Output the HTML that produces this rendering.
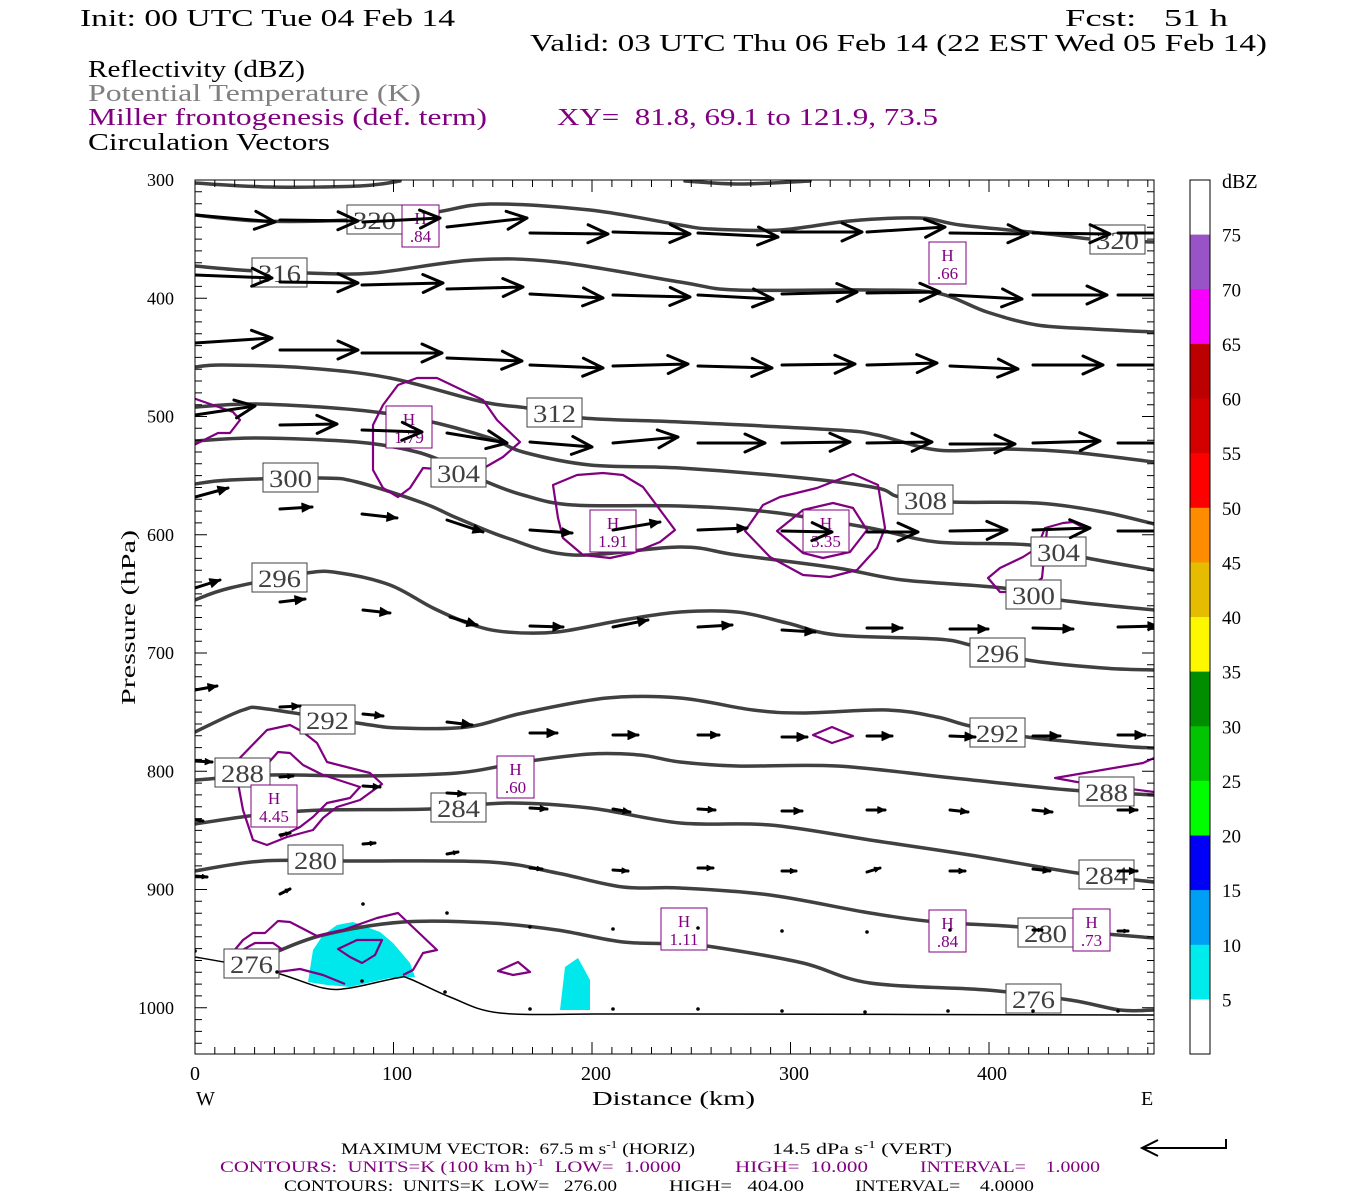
<!DOCTYPE html>
<html><head><meta charset="utf-8"><style>
html,body{margin:0;padding:0;background:#fff;}
svg{display:block;}
text{font-family:"Liberation Serif",serif;white-space:pre;}
</style></head><body>
<svg id="s" width="1350" height="1200" viewBox="0 0 1350 1200" xmlns="http://www.w3.org/2000/svg" xml:space="preserve">
<rect width="1350" height="1200" fill="#fff"/>
<g font-size="24" fill="#000">
<text x="80" y="26" textLength="375" lengthAdjust="spacingAndGlyphs">Init: 00 UTC Tue 04 Feb 14</text>
<text x="1065" y="26" textLength="163" lengthAdjust="spacingAndGlyphs">Fcst:   51 h</text>
<text x="530" y="51" textLength="737" lengthAdjust="spacingAndGlyphs">Valid: 03 UTC Thu 06 Feb 14 (22 EST Wed 05 Feb 14)</text>
<text x="88" y="77" textLength="217" lengthAdjust="spacingAndGlyphs">Reflectivity (dBZ)</text>
<text x="88" y="101" fill="#808080" textLength="333" lengthAdjust="spacingAndGlyphs">Potential Temperature (K)</text>
<text x="88" y="125" fill="#800080" textLength="399" lengthAdjust="spacingAndGlyphs">Miller frontogenesis (def. term)</text>
<text x="557" y="125" fill="#800080" textLength="381" lengthAdjust="spacingAndGlyphs">XY=  81.8, 69.1 to 121.9, 73.5</text>
<text x="88" y="150" textLength="242" lengthAdjust="spacingAndGlyphs">Circulation Vectors</text>
</g>
<defs><clipPath id="cp"><rect x="195" y="180" width="959" height="874"/></clipPath></defs>
<g id="plot" clip-path="url(#cp)">
<polygon fill="#00e8ec" points="308,982 313,950 323,935 337,925 353,922 380,932 393,943 410,963 415,977 390,978 350,987 327,985"/>
<polygon fill="#00e8ec" points="560,1010 565,967 578,958 590,980 590,1010"/>
<g id="theta" fill="none" stroke="#404040" stroke-width="3.5" stroke-linejoin="round" stroke-linecap="round"></g>
<g id="ground" fill="none" stroke="#000" stroke-width="1.5"></g>
<g id="purple" fill="none" stroke="#800080" stroke-width="2.2" stroke-linejoin="round"></g>
<g id="tlabels" font-size="25" fill="#404040"></g>
<g id="hlabels" font-size="17" fill="#800080"></g>
<g id="arrows" stroke="#000" fill="none" stroke-linecap="round" stroke-linejoin="round"></g>
</g>
<rect x="195" y="180" width="959" height="874" fill="none" stroke="#000" stroke-width="1"/>
<g id="ticks" stroke="#000" stroke-width="1"></g>
<g font-size="18" fill="#000" id="axlabels">
<text x="1222" y="188" font-size="20">dBZ</text>
</g>
<g font-size="20" fill="#000">
<text x="190" y="1080">0</text>
<text x="382" y="1080">100</text>
<text x="581" y="1080">200</text>
<text x="779" y="1080">300</text>
<text x="977" y="1080">400</text>
<text x="196" y="1105">W</text>
<text x="1141" y="1105">E</text>
<text x="592" y="1105" textLength="163" lengthAdjust="spacingAndGlyphs">Distance (km)</text>
<text transform="translate(135,705) rotate(-90)" textLength="175" lengthAdjust="spacingAndGlyphs">Pressure (hPa)</text>
</g>
<g font-size="16">
<text x="341" y="1154" textLength="354" lengthAdjust="spacingAndGlyphs">MAXIMUM VECTOR:  67.5 m s<tspan dy="-6" font-size="11">-1</tspan><tspan dy="6"> (HORIZ)</tspan></text>
<text x="772" y="1154" textLength="180" lengthAdjust="spacingAndGlyphs">14.5 dPa s<tspan dy="-6" font-size="11">-1</tspan><tspan dy="6"> (VERT)</tspan></text>
<text x="220" y="1172" fill="#800080" textLength="461" lengthAdjust="spacingAndGlyphs">CONTOURS:  UNITS=K (100 km h)<tspan dy="-6" font-size="11">-1</tspan><tspan dy="6">  LOW=  1.0000</tspan></text>
<text x="735" y="1172" fill="#800080" textLength="133" lengthAdjust="spacingAndGlyphs">HIGH=  10.000</text>
<text x="920" y="1172" fill="#800080" textLength="180" lengthAdjust="spacingAndGlyphs">INTERVAL=    1.0000</text>
<text x="284" y="1191" fill="#000" textLength="333" lengthAdjust="spacingAndGlyphs">CONTOURS:  UNITS=K  LOW=   276.00</text>
<text x="669" y="1191" fill="#000" textLength="135" lengthAdjust="spacingAndGlyphs">HIGH=   404.00</text>
<text x="855" y="1191" fill="#000" textLength="179" lengthAdjust="spacingAndGlyphs">INTERVAL=    4.0000</text>
</g>
<g stroke="#000" stroke-width="2" fill="none">
<path d="M1142,1148 L1226,1148 L1226,1139"/>
<path d="M1158,1140 L1142,1148 L1158,1156"/>
</g>
<g id="cbar"></g>
</svg>
<script>
(function(){
var NS="http://www.w3.org/2000/svg";
function el(p,t,a,txt){var e=document.createElementNS(NS,t);for(var k in a)e.setAttribute(k,a[k]);if(txt!=null)e.textContent=txt;document.getElementById(p).appendChild(e);return e;}
function smooth(pts,closed){
 var n=pts.length,d="M"+pts[0][0]+","+pts[0][1];
 var P=function(i){if(closed)return pts[(i+n)%n];return pts[Math.max(0,Math.min(n-1,i))];};
 var m=closed?n:n-1;
 for(var i=0;i<m;i++){var p0=P(i-1),p1=P(i),p2=P(i+1),p3=P(i+2);
  var c1=[p1[0]+(p2[0]-p0[0])/6,p1[1]+(p2[1]-p0[1])/6],c2=[p2[0]-(p3[0]-p1[0])/6,p2[1]-(p3[1]-p1[1])/6];
  d+=" C"+c1[0].toFixed(1)+","+c1[1].toFixed(1)+" "+c2[0].toFixed(1)+","+c2[1].toFixed(1)+" "+p2[0]+","+p2[1];}
 if(closed)d+="Z";return d;}
var theta=[
[[195,183],[270,187],[360,186],[400,181]],
[[685,181],[740,184],[810,181]],
[[195,215],[260,221],[350,220],[430,213],[490,204],[590,210],[680,225],[710,229],[780,230],[850,221],[920,218],[960,225],[1040,233],[1100,240],[1154,242]],
[[195,266],[240,270],[307,273],[373,273],[473,260],[557,262],[680,282],[737,290],[870,290],[937,293],[987,312],[1037,325],[1093,329],[1154,332]],
[[195,367],[223,365],[307,368],[390,378],[483,402],[527,408],[583,418],[680,422],[837,430],[877,435],[937,450],[1003,449],[1070,452],[1154,462]],
[[195,407],[257,404],[357,410],[423,420],[490,438],[523,452],[590,465],[680,468],[803,478],[877,488],[900,497],[953,502],[1037,503],[1103,512],[1154,524]],
[[195,441],[257,438],[357,442],[417,452],[458,468],[487,482],[523,495],[573,505],[680,506],[770,512],[870,528],[937,542],[1030,545],[1087,558],[1154,570]],
[[195,484],[230,480],[320,478],[357,482],[423,503],[457,518],[507,538],[573,555],[680,547],[737,555],[837,568],[903,580],[1003,588],[1060,600],[1154,610]],
[[195,600],[230,588],[307,573],[340,573],[390,585],[433,608],[473,625],[507,632],[557,632],[623,620],[680,612],[737,612],[787,623],[837,635],[937,639],[970,645],[1027,660],[1103,668],[1154,670]],
[[195,732],[243,710],[267,709],[357,723],[400,728],[467,727],[523,713],[607,698],[680,698],[753,710],[803,713],[887,710],[937,717],[970,726],[1027,737],[1120,746],[1154,748]],
[[195,780],[270,775],[357,776],[457,773],[523,762],[590,754],[640,755],[680,762],[737,766],[837,766],[953,778],[1070,790],[1154,795]],
[[195,824],[257,815],[323,810],[430,809],[507,803],[590,808],[680,823],[770,825],[870,840],[970,855],[1077,873],[1154,882]],
[[195,871],[263,861],[357,861],[490,862],[557,873],[623,887],[680,888],[770,895],[870,913],[937,922],[1020,927],[1154,938]],
[[250,961],[273,953],[323,935],[403,922],[490,923],[557,930],[623,942],[680,944],[720,948],[803,963],[870,983],[987,990],[1070,1000],[1120,1010],[1154,1010]]
];
theta.forEach(function(t){el("theta","path",{d:smooth(t,false)});});
el("ground","path",{d:smooth([[195,957],[240,965],[280,974],[323,988],[350,988],[397,978],[410,979],[450,997],[500,1013],[600,1014],[680,1014],[1154,1015]],false)});
var purp=[
[[[373,425],[383,405],[398,385],[417,378],[437,378],[483,400],[497,420],[520,442],[503,457],[477,472],[423,468],[410,488],[398,497],[383,488],[373,470]],1],
[[[190,397],[233,412],[240,420],[230,433],[218,433],[190,447]],0],
[[[553,485],[577,475],[603,473],[623,475],[643,487],[675,530],[660,542],[633,553],[610,558],[583,555],[563,538],[558,518]],1],
[[[745,531],[763,505],[780,497],[817,488],[853,474],[878,485],[885,528],[877,548],[857,570],[830,577],[803,575],[770,557]],1],
[[[777,531],[803,510],[833,503],[853,508],[867,530],[850,552],[823,558],[803,553]],1],
[[[1088,530],[1073,522],[1063,523],[1045,528],[1037,548],[1023,557],[1000,568],[988,578],[1000,592],[1023,592],[1042,578],[1045,548],[1047,530]],0],
[[[233,765],[267,730],[290,725],[303,732],[317,743],[327,762],[370,773],[382,784],[360,800],[337,807],[323,818],[313,830],[287,837],[267,845],[253,840],[243,810],[238,783]],1],
[[[255,778],[278,752],[290,753],[303,765],[323,775],[360,787],[350,798],[327,803],[313,817],[300,827],[280,837]],0],
[[[228,958],[243,940],[253,933],[265,933],[278,921],[290,922],[317,936],[343,930],[377,918],[398,913],[437,950],[423,953],[413,970],[403,975]],0],
[[[278,972],[300,969],[323,975],[345,984]],0],
[[[230,957],[255,943],[273,943],[283,950]],0],
[[[338,949],[357,940],[382,940],[375,955],[362,963],[350,957]],1],
[[[498,971],[518,962],[530,972],[513,975]],1],
[[[813,735],[832,727],[853,736],[832,743]],1],
[[[1154,758],[1143,763],[1055,778],[1077,782],[1154,792]],0]
];
purp.forEach(function(p){var pts=p[0];var d="M"+pts.map(function(q){return q.join(",");}).join(" L")+(p[1]?"Z":"");el("purple","path",{d:d});});
var tl=[["320",347,205],["316",252,258],["312",527,398],["304",431,458],["300",263,463],["308",898,485],["304",1031,537],["300",1006,580],["296",252,563],["296",970,638],["292",300,705],["292",970,718],["288",215,758],["288",1079,777],["284",431,793],["284",1079,860],["280",288,845],["280",1018,918],["276",224,949],["276",1006,984],["320",1090,225]];
tl.forEach(function(t){el("tlabels","rect",{x:t[1],y:t[2],width:55,height:29,fill:"#fff",stroke:"#404040","stroke-width":1});el("tlabels","text",{x:t[1]+6,y:t[2]+24,textLength:43,lengthAdjust:"spacingAndGlyphs"},t[0]);});
var hl=[[".84",402,205],["1.79",386,406],["1.91",590,510],["3.35",803,510],[".66",929,242],["4.45",251,785],[".60",497,756],["1.11",661,908],[".84",929,910],[".73",1073,909]];
hl.forEach(function(h){var w=h[0].length>3?46:37;el("hlabels","rect",{x:h[1],y:h[2],width:w,height:42,fill:"#fff",stroke:"#800080","stroke-width":1});el("hlabels","text",{x:h[1]+w/2,y:h[2]+19,"text-anchor":"middle"},"H");el("hlabels","text",{x:h[1]+w/2,y:h[2]+37,"text-anchor":"middle"},h[0]);});
var A=[
[195,215,275,222],[280,220,358,221],[363,222,440,218],[447,227,527,218],[530,233,608,234],[613,232,690,234],[698,233,778,237],[782,232,862,232],[867,232,945,227],[950,233,1028,234],[1033,233,1110,234],[1118,233,1196,233],
[195,275,272,278],[280,282,358,283],[362,285,443,283],[447,289,523,287],[530,294,603,298],[613,295,690,297],[698,295,773,299],[782,294,857,292],[867,293,940,292],[950,295,1022,299],[1033,295,1107,295],[1118,295,1192,295],
[195,343,272,338],[280,350,358,350],[362,353,442,353],[447,358,522,361],[530,365,603,368],[613,366,688,364],[698,366,772,368],[782,365,855,364],[867,365,937,363],[950,366,1018,369],[1033,365,1103,365],[1118,365,1188,365],
[195,415,255,406],[280,425,337,424],[362,430,422,432],[447,433,507,443],[530,442,592,447],[613,443,678,437],[698,443,765,443],[782,443,850,442],[867,443,932,442],[950,444,1015,444],[1033,443,1100,441],[1118,443,1185,443],
[195,497,228,488],[280,509,312,507],[362,514,397,518],[447,520,483,532],[530,530,572,533],[613,530,660,522],[698,530,747,528],[782,531,832,532],[867,532,918,532],[950,531,1007,530],[1033,530,1090,528],[1118,531,1175,531],
[195,588,220,580],[280,602,305,599],[363,610,390,613],[450,617,477,625],[530,626,563,627],[613,627,648,620],[698,627,732,625],[782,630,815,632],[867,628,902,628],[950,629,988,629],[1033,628,1073,629],[1118,627,1158,626],
[195,690,217,686],[280,707,300,706],[363,714,383,716],[447,722,472,725],[530,733,557,733],[613,735,638,735],[698,735,719,735],[782,737,807,737],[867,736,892,736],[950,736,975,737],[1033,736,1060,736],[1118,735,1145,735],
[195,761,212,762],[280,777,293,776],[363,786,380,787],[447,793,465,794],[530,808,547,809],[613,809,630,812],[698,809,715,810],[782,811,802,811],[867,810,885,810],[950,810,968,812],[1033,810,1052,812],[1118,810,1137,810],
[195,820,203,821],[280,835,290,833],[363,844,375,843],[447,854,458,852],[530,868,542,869],[613,870,628,871],[698,868,713,868],[782,871,796,871],[867,872,880,868],[950,871,965,871],[1033,869,1050,871],[1118,871,1137,871],
[195,876,207,877],[280,894,290,889],[363,904,367,900],[447,913,449,910],[530,927,532,927],[613,929,615,929],[698,928,700,928],[782,931,784,931],[867,932,870,928],[950,930,955,931],[1033,930,1042,930],[1118,931,1128,931],
[195,951,197,951],[277,972,279,972],[362,981,364,981],[445,992,447,992],[530,1009,532,1009],[613,1009,615,1009],[698,1009,700,1009],[782,1011,784,1011],[865,1012,867,1012],[948,1011,950,1011],[1033,1011,1035,1011],[1118,1011,1120,1011]
];
A.forEach(function(a){var dx=a[2]-a[0],dy=a[3]-a[1],L=Math.sqrt(dx*dx+dy*dy);if(L<0.1)return;var ux=dx/L,uy=dy/L;
 if(L<6){el("arrows","circle",{cx:a[0],cy:a[1],r:1.8,fill:"#000",stroke:"none"});return;}
 var h,w;
 if(L>=50){h=20;w=9;el("arrows","path",{d:"M"+a[0]+","+a[1]+" L"+a[2]+","+a[3]+" M"+(a[2]-ux*h-uy*w)+","+(a[3]-uy*h+ux*w)+" L"+a[2]+","+a[3]+" L"+(a[2]-ux*h+uy*w)+","+(a[3]-uy*h-ux*w),"stroke-width":3});}
 else{h=Math.min(10,L*0.4);w=h*0.45;el("arrows","path",{d:"M"+a[0]+","+a[1]+" L"+a[2]+","+a[3],"stroke-width":3});
  el("arrows","path",{d:"M"+a[2]+","+a[3]+" L"+(a[2]-ux*h-uy*w)+","+(a[3]-uy*h+ux*w)+" L"+(a[2]-ux*h+uy*w)+","+(a[3]-uy*h-ux*w)+"Z",fill:"#000","stroke-width":1});}
});
var d="";
for(var p=300;p<=1030;p+=10){var y=180+(p-300)*1.1825;var L=(p%100==0)?12:7;d+="M195,"+y.toFixed(1)+" h"+L+" M1154,"+y.toFixed(1)+" h-"+L+" ";}
for(var k=0;k<=480;k+=10){var x=195+k*1.985;var L2=(k%100==0)?12:7;d+="M"+x.toFixed(1)+",180 v"+L2+" M"+x.toFixed(1)+",1054 v-"+L2+" ";}
el("ticks","path",{d:d});
for(var p2=300;p2<=1000;p2+=100){var yy=180+(p2-300)*1.1825;el("axlabels","text",{x:174,y:yy+6,"text-anchor":"end"},String(p2));}
var cols=["#ffffff","#9854c6","#f800fd","#bc0000","#d40000","#fd0000","#fd8c00","#e5bc00","#fdf800","#008e00","#01c501","#00fd00","#0000f6","#019ff4","#00ecec","#ffffff"];
var cbTop=180,seg=874/16;
for(var i=0;i<16;i++){el("cbar","rect",{x:1190,y:(cbTop+i*seg).toFixed(1),width:20,height:(seg+0.5).toFixed(1),fill:cols[i]});}
el("cbar","rect",{x:1190,y:180,width:20,height:874,fill:"none",stroke:"#000","stroke-width":1});
for(var j=1;j<16;j++){var yc=cbTop+j*seg;el("cbar","text",{x:1222,y:(yc+7).toFixed(1),"font-size":19},String(80-5*j));}
})();
</script>
</body></html>
